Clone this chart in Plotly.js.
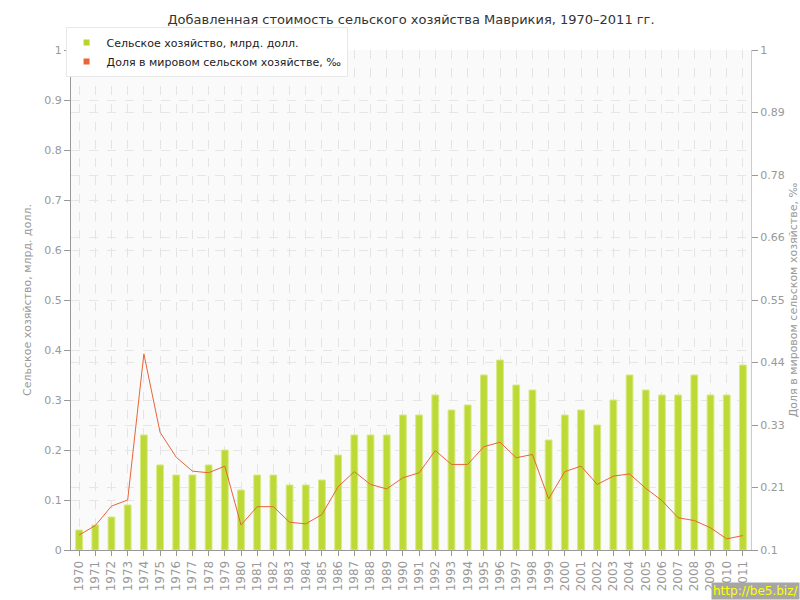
<!DOCTYPE html>
<html>
<head>
<meta charset="utf-8">
<script src="https://cdn.plot.ly/plotly-3.0.1.min.js"></script>
<style>html,body{margin:0;padding:0;background:#fff;}#chart{width:800px;height:600px;}</style>
</head>
<body>
<div id="chart"></div>
<script>
const years = ['1970','1971','1972','1973','1974','1975','1976','1977','1978','1979','1980','1981','1982','1983','1984','1985','1986','1987','1988','1989','1990','1991','1992','1993','1994','1995','1996','1997','1998','1999','2000','2001','2002','2003','2004','2005','2006','2007','2008','2009','2010','2011'];
const agriValue = [0.04,0.05,0.066,0.09,0.23,0.17,0.15,0.15,0.17,0.2,0.12,0.15,0.15,0.13,0.13,0.14,0.19,0.23,0.23,0.23,0.27,0.27,0.31,0.28,0.29,0.35,0.38,0.33,0.32,0.22,0.27,0.28,0.25,0.3,0.35,0.32,0.31,0.31,0.35,0.31,0.31,0.37];
const worldShare = [0.127,0.144,0.179,0.19,0.453,0.312,0.267,0.242,0.239,0.251,0.145,0.178,0.178,0.150,0.147,0.164,0.214,0.241,0.218,0.210,0.230,0.239,0.279,0.254,0.254,0.286,0.294,0.266,0.272,0.192,0.241,0.251,0.218,0.233,0.237,0.211,0.189,0.158,0.153,0.140,0.120,0.126];
const y2TickVals = [0.1,0.2125,0.325,0.4375,0.55,0.6625,0.775,0.8875,1];
const y2TickText = ['0.1','0.21','0.33','0.44','0.55','0.66','0.78','0.89','1'];
const seriesNames = ['Сельское хозяйство, млрд. долл.','Доля в мировом сельском хозяйстве, ‰'];
const titleText = 'Добавленная стоимость сельского хозяйства Маврикия, 1970–2011 гг.';

const FONT = 'DejaVu Sans, Verdana, sans-serif';
const green = '#bcd935';
const orange = '#e8653a';

const traces = [
  {
    type: 'bar', x: years, y: agriValue, name: seriesNames[0],
    marker: {color: green, line: {color: '#d7ea85', width: 1}},
    width: 0.42, showlegend: false, hoverinfo: 'x+y'
  },
  {
    type: 'scatter', mode: 'lines', x: years, y: worldShare, yaxis: 'y2',
    name: seriesNames[1], line: {color: orange, width: 1}, showlegend: false
  },
  {
    type: 'scatter', mode: 'markers', x: [null], y: [null], name: seriesNames[0],
    marker: {color: '#b5d52a', symbol: 'square', size: 6}, showlegend: true
  },
  {
    type: 'scatter', mode: 'markers', x: [null], y: [null], name: seriesNames[1],
    marker: {color: orange, symbol: 'square', size: 6}, showlegend: true
  }
];

const shapes = years.map((yr, i) => ({
  type: 'line', xref: 'x', yref: 'y', x0: yr, x1: yr, y0: 0, y1: agriValue[i],
  line: {color: 'rgba(255,255,255,0.85)', width: 1, dash: '3px,3px'}, layer: 'above'
}));

const layout = {
  width: 800, height: 600,
  margin: {l: 71, r: 49, t: 50, b: 50},
  paper_bgcolor: '#ffffff',
  plot_bgcolor: '#fafafa',
  font: {family: FONT, size: 11, color: '#999'},
  title: {text: titleText, x: 0.5, xref: 'paper', y: 0.975, yanchor: 'top',
          font: {family: FONT, size: 13, color: '#333'}},
  showlegend: true,
  legend: {x: -0.008, y: 1.046, xanchor: 'left', yanchor: 'top', bgcolor: '#ffffff',
           bordercolor: '#e8e8e8', borderwidth: 1, font: {family: FONT, size: 11, color: '#222'},
           itemwidth: 30, tracegroupgap: 0},
  bargap: 0.5,
  xaxis: {
    type: 'category', range: [-0.5, years.length - 0.5],
    tickangle: -90, tickfont: {family: FONT, size: 12, color: '#999'},
    ticks: 'outside', ticklen: 5, tickcolor: '#999',
    showline: true, linecolor: '#999', linewidth: 1,
    showgrid: true, gridcolor: '#e4e4e4', griddash: 'dash', gridwidth: 1,
    zeroline: false, fixedrange: true
  },
  yaxis: {
    range: [0, 1], dtick: 0.1, tick0: 0,
    tickfont: {family: FONT, size: 11, color: '#999'},
    ticks: 'outside', ticklen: 6, tickcolor: '#999',
    showline: true, linecolor: '#999', linewidth: 1,
    showgrid: true, gridcolor: '#e6e6e6', griddash: 'dash',
    zeroline: false,
    title: {text: seriesNames[0], font: {family: FONT, size: 11, color: '#999'}, standoff: 10}
  },
  yaxis2: {
    overlaying: 'y', side: 'right', range: [0.1, 1],
    tickmode: 'array', tickvals: y2TickVals, ticktext: y2TickText,
    tickfont: {family: FONT, size: 11, color: '#999'},
    ticks: 'outside', ticklen: 6, tickcolor: '#999',
    showline: true, linecolor: '#ccc', linewidth: 1,
    showgrid: true, gridcolor: '#e6e6e6', griddash: 'dash',
    zeroline: false,
    title: {text: seriesNames[1], font: {family: FONT, size: 11, color: '#999'}, standoff: 6}
  },
  shapes: shapes,
  annotations: [{
    text: 'http://be5.biz/', xref: 'paper', yref: 'paper', x: 1.072, y: -0.1, xanchor: 'right', yanchor: 'bottom',
    showarrow: false, bgcolor: '#a6a6a6', font: {family: FONT, size: 12, color: '#ffff00'}, borderpad: 1
  }]
};

Plotly.newPlot('chart', traces, layout, {displayModeBar: false, staticPlot: true});
</script>
</body>
</html>
